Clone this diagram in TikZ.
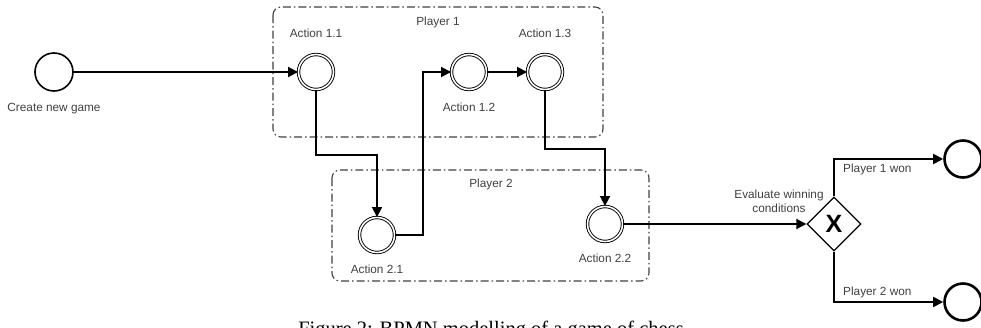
\documentclass[tikz,border=0pt]{standalone}
\usepackage{fontspec}
\setmainfont{Liberation Sans}
\newfontfamily\capfont{Liberation Serif}
\usepackage{tikz}
\usetikzlibrary{positioning, shapes.geometric, arrows.meta}
\tikzset{
    x=1pt, y=-1pt, % one unit is one pixel of the layout, y grows downwards
    lbl/.style={inner sep=0pt, text=black!75, font=\fontsize{11.8}{14}\selectfont}, % every text
    event/.style={circle, draw, line width=1.6pt, minimum size=38pt, inner sep=0pt}, % start event
    endevent/.style={circle, draw, line width=2.6pt, minimum size=37pt, inner sep=0pt}, % end event
    task/.style={circle, draw, double, line width=0.9pt, double distance=1.6pt, minimum size=35pt, inner sep=0pt}, % actions
    gateway/.style={diamond, draw, line width=1.3pt, minimum size=54pt, inner sep=0pt, fill=white, font=\fontsize{25}{25}\selectfont\bfseries}, % exclusive gateway
    pool/.style={draw=black!75, line width=1.1pt, rounded corners=8pt, dash pattern=on 8pt off 3pt on 1.5pt off 3pt}, % player boxes
    flow/.style={-{Triangle[length=10pt,width=10pt]}, line width=1.8pt}, % sequence flow
}
\begin{document}
\begin{tikzpicture}
    \clip (0,0) rectangle (981,327);
    \draw[pool] (273,7) rectangle (603,137);
    \draw[pool] (332,170) rectangle (649,281);
    \node[lbl] (p1) at (438,22) {Player 1};
    \node[lbl] (p2) at (491,184) {Player 2};
    \node[event] (start) at (54,72) {};
    \node[lbl, below=11pt of start] (tstart) {Create new game};
    \node[task] (a11) at (316,72) {};
    \node[task] (a12) at (469,72) {};
    \node[task] (a13) at (545,72) {};
    \node[task] (a21) at (377,235) {};
    \node[task] (a22) at (605,224) {};
    \node[lbl, above=16pt of a11] (t11) {Action 1.1};
    \node[lbl, below=12.5pt of a12] (t12) {Action 1.2};
    \node[lbl, above=16pt of a13] (t13) {Action 1.3};
    \node[lbl, below=11.5pt of a21] (t21) {Action 2.1};
    \node[lbl, below=11.5pt of a22] (t22) {Action 2.2};
    \node[gateway] (gw) at (834,224) {X};
    \node[lbl, align=center] (tgw) at (779,201) {Evaluate winning\\conditions};
    \node[endevent] (won1) at (963,159) {};
    \node[endevent] (won2) at (963,302) {};
    \node[lbl, anchor=west] (w1) at (843,169) {Player 1 won};
    \node[lbl, anchor=west] (w2) at (843,292) {Player 2 won};
    \coordinate (k1) at (377,155);
    \coordinate (k2) at (423,72);
    \coordinate (k3) at (605,149);
    \draw[flow] (start) -- (a11);
    \draw[flow] (a11.south) |- (k1) -- (a21.north);
    \draw[flow] (a21.east) -| (k2) -- (a12.west);
    \draw[flow] (a12) -- (a13);
    \draw[flow] (a13.south) |- (k3) -- (a22.north);
    \draw[flow] (a22) -- (gw);
    \draw[flow] (gw) |- (won1);
    \draw[flow] (gw) |- (won2);
    \node[anchor=base, inner sep=0pt, font=\capfont\fontsize{20.5}{24}\selectfont] (cap) at (491,335.3) {Figure 2: BPMN modelling of a game of chess};
\end{tikzpicture}
\end{document}
